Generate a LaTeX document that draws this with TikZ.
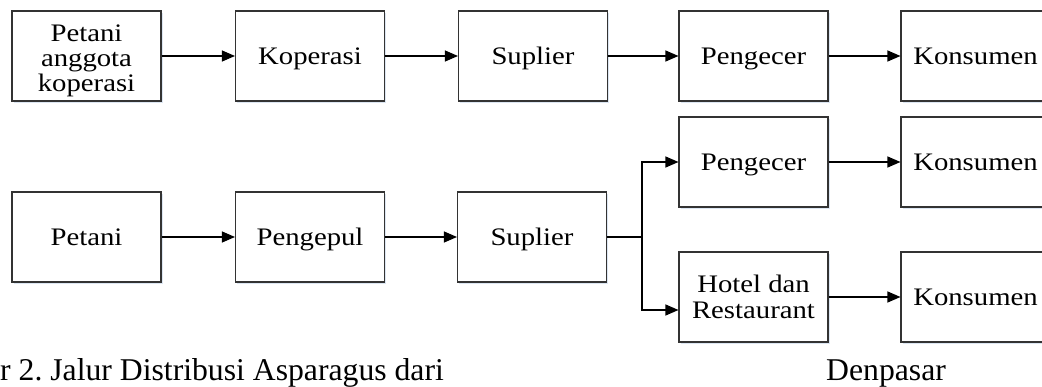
\documentclass[tikz,border=0pt]{standalone}
\usepackage{fontspec}
\setmainfont{Liberation Serif}
\newfontfamily\diagfont[FakeStretch=1.14]{Liberation Serif}
\usetikzlibrary{arrows.meta,shadows}
\frenchspacing
\definecolor{boxline}{HTML}{333333}
\definecolor{shadowc}{HTML}{DCE6F2}
\tikzset{
  flowbox/.style={draw=boxline, line width=1.1pt, fill=white, minimum width=149pt, minimum height=90pt,
    inner sep=0pt, align=center, font=\diagfont\fontsize{25.2}{26.5}\selectfont,
    drop shadow={shadow xshift=1.5pt, shadow yshift=-2pt, fill=shadowc, opacity=1}},
  oneline/.style={text height=16.7pt, text depth=0pt},
  flowarrow/.style={line width=1.1pt, -{Triangle[length=13pt,width=11pt]}},
  caption/.style={font=\fontsize{31.7}{34}\selectfont, inner sep=0pt, anchor=base west}
}
\begin{document}
\begin{tikzpicture}[x=1pt,y=-1pt]
\clip (0,0) rectangle (1042,387);
\fill[white] (0,0) rectangle (1042,387);
% row 1
\node[flowbox] (a1) at (86.5,56) {};
\node[inner sep=0pt, align=center, anchor=south, font=\diagfont\fontsize{25.2}{25}\selectfont] (a1t) at (86.5,97.5) {Petani\\anggota\\koperasi};
\node[flowbox, oneline] (a2) at (310,56) {Koperasi};
\node[flowbox, oneline] (a3) at (533,56) {Suplier};
\node[flowbox, oneline] (a4) at (753.5,56) {Pengecer};
\node[flowbox, oneline] (a5) at (975.5,56) {Konsumen};
\draw[flowarrow] (a1) -- (a2);
\draw[flowarrow] (a2) -- (a3);
\draw[flowarrow] (a3) -- (a4);
\draw[flowarrow] (a4) -- (a5);
% row 2
\node[flowbox, oneline] (b1) at (86.5,237) {Petani};
\node[flowbox, oneline] (b2) at (310,237) {Pengepul};
\node[flowbox, oneline] (b3) at (532,237) {Suplier};
\node[flowbox, oneline] (c1) at (753.5,162) {Pengecer};
\node[flowbox, oneline] (c2) at (975.5,162) {Konsumen};
\node[flowbox] (d1) at (753.5,297) {Hotel dan\\Restaurant};
\node[flowbox, oneline] (d2) at (975.5,297) {Konsumen};
\draw[flowarrow] (b1) -- (b2);
\draw[flowarrow] (b2) -- (b3);
\coordinate (br) at (642,237);
\draw[line width=1.1pt] (b3.east) -- (br);
\draw[flowarrow] (br) |- (c1.west);
\draw[flowarrow] (br) |- ([yshift=-13pt]d1.west);
\draw[flowarrow] (c1) -- (c2);
\draw[flowarrow] (d1) -- (d2);
% caption
\node[caption] (cap1) at (0,381) {r 2. Jalur Distribusi Asparagus dari};
\node[caption] (cap2) at (826,381) {Denpasar};
\end{tikzpicture}
\end{document}
